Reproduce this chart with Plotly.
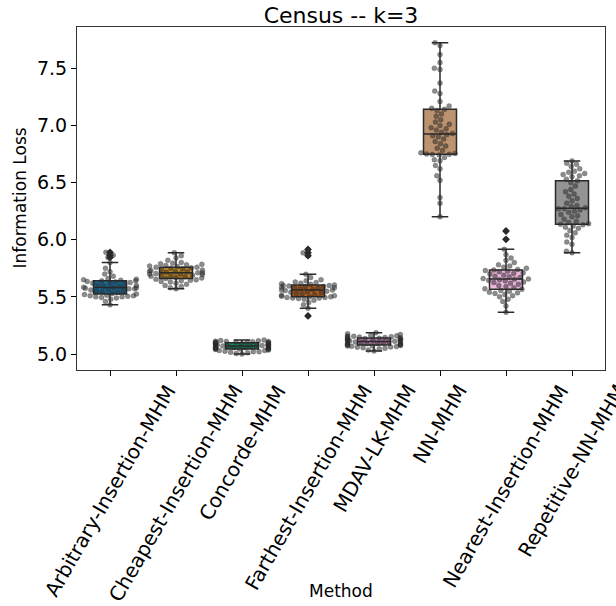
import numpy as np
import plotly.graph_objects as go

methods = ["Arbitrary-Insertion-MHM", "Cheapest-Insertion-MHM", "Concorde-MHM",
           "Farthest-Insertion-MHM", "MDAV-LK-MHM", "NN-MHM",
           "Nearest-Insertion-MHM", "Repetitive-NN-MHM"]

arbitrary = [5.43, 5.46, 5.48, 5.49, 5.495, 5.50, 5.50, 5.505, 5.51, 5.51,
             5.515, 5.52, 5.525, 5.53, 5.54, 5.545, 5.55, 5.555, 5.56, 5.565,
             5.57, 5.57, 5.575, 5.58, 5.58, 5.585, 5.59, 5.595, 5.60, 5.60,
             5.61, 5.615, 5.62, 5.625, 5.63, 5.635, 5.64, 5.64, 5.645, 5.65,
             5.655, 5.66, 5.68, 5.70, 5.72, 5.75, 5.80, 5.845, 5.865, 5.89]
cheapest = [5.57, 5.58, 5.59, 5.60, 5.61, 5.62, 5.63, 5.635, 5.64, 5.645,
            5.65, 5.655, 5.66, 5.665, 5.67, 5.675, 5.68, 5.685, 5.69, 5.69,
            5.695, 5.70, 5.70, 5.705, 5.71, 5.71, 5.715, 5.72, 5.72, 5.725,
            5.73, 5.735, 5.74, 5.745, 5.75, 5.755, 5.76, 5.76, 5.765, 5.77,
            5.775, 5.78, 5.785, 5.79, 5.795, 5.80, 5.82, 5.84, 5.86, 5.886]
concorde = [5.00, 5.005, 5.01, 5.015, 5.02, 5.02, 5.025, 5.03, 5.03, 5.035,
            5.04, 5.04, 5.044, 5.045, 5.05, 5.05, 5.052, 5.055, 5.055, 5.058,
            5.06, 5.06, 5.063, 5.065, 5.068, 5.07, 5.072, 5.075, 5.075, 5.078,
            5.08, 5.08, 5.083, 5.085, 5.088, 5.09, 5.095, 5.099, 5.10, 5.10,
            5.102, 5.105, 5.105, 5.108, 5.11, 5.11, 5.112, 5.115, 5.118, 5.122]
farthest = [5.333, 5.40, 5.43, 5.45, 5.47, 5.48, 5.485, 5.49, 5.49, 5.495,
            5.495, 5.50, 5.50, 5.505, 5.51, 5.515, 5.52, 5.525, 5.53, 5.535,
            5.54, 5.545, 5.55, 5.555, 5.56, 5.56, 5.565, 5.57, 5.575, 5.58,
            5.58, 5.585, 5.59, 5.59, 5.595, 5.60, 5.60, 5.604, 5.61, 5.615,
            5.62, 5.625, 5.63, 5.64, 5.65, 5.67, 5.697, 5.86, 5.885, 5.915]
mdav = [5.026, 5.035, 5.045, 5.05, 5.055, 5.06, 5.062, 5.065, 5.068, 5.07,
        5.072, 5.075, 5.079, 5.08, 5.083, 5.085, 5.088, 5.09, 5.092, 5.095,
        5.098, 5.10, 5.102, 5.105, 5.108, 5.11, 5.112, 5.115, 5.118, 5.12,
        5.122, 5.125, 5.128, 5.13, 5.132, 5.135, 5.138, 5.14, 5.142, 5.145,
        5.148, 5.15, 5.152, 5.155, 5.158, 5.16, 5.165, 5.17, 5.178, 5.186]
nn = [6.20, 6.32, 6.37, 6.52, 6.56, 6.62, 6.65, 6.69, 6.70, 6.72,
      6.74, 6.745, 6.747, 6.75, 6.755, 6.76, 6.78, 6.80, 6.82, 6.84,
      6.86, 6.88, 6.90, 6.91, 6.92, 6.93, 6.94, 6.96, 6.97, 6.98,
      7.00, 7.01, 7.03, 7.05, 7.08, 7.10, 7.13, 7.141, 7.15, 7.17,
      7.21, 7.28, 7.30, 7.37, 7.49, 7.50, 7.55, 7.62, 7.70, 7.724]
nearest = [5.365, 5.42, 5.46, 5.48, 5.50, 5.51, 5.52, 5.53, 5.535, 5.54,
           5.55, 5.555, 5.566, 5.57, 5.58, 5.59, 5.60, 5.61, 5.62, 5.625,
           5.63, 5.64, 5.645, 5.65, 5.655, 5.657, 5.66, 5.67, 5.675, 5.68,
           5.69, 5.70, 5.705, 5.71, 5.72, 5.725, 5.73, 5.735, 5.74, 5.75,
           5.76, 5.77, 5.78, 5.80, 5.82, 5.84, 5.87, 5.916, 6.003, 6.076]
repetitive = [5.886, 5.90, 5.96, 5.98, 6.02, 6.04, 6.06, 6.08, 6.10, 6.11,
              6.12, 6.13, 6.135, 6.14, 6.15, 6.16, 6.18, 6.20, 6.21, 6.22,
              6.24, 6.25, 6.26, 6.27, 6.27, 6.28, 6.29, 6.30, 6.32, 6.34,
              6.36, 6.38, 6.40, 6.42, 6.44, 6.47, 6.50, 6.515, 6.53, 6.55,
              6.56, 6.57, 6.58, 6.59, 6.60, 6.62, 6.64, 6.66, 6.67, 6.689]

series = [arbitrary, cheapest, concorde, farthest, mdav, nn, nearest, repetitive]
box_colors = ["#176d9c", "#c38820", "#168b6a", "#ba611b",
              "#c283b6", "#bd926e", "#f1b8e0", "#949494"]

W, H = 616, 606
ML, MR, MT, MB = 77, 11, 27, 236
YR = [4.86, 7.861]
XR = [-0.5, 7.5]
pw, ph = W - ML - MR, H - MT - MB
xs_px = pw / (XR[1] - XR[0])
ys_px = ph / (YR[1] - YR[0])
DOT = 5.5
LINE = "#2a2a2a"
FONT = "DejaVu Sans"


def swarm_offsets(vals, diameter, half_width_px):
    v = np.asarray(vals, float) * ys_px
    order = np.argsort(v, kind="stable")
    placed = []
    out = np.zeros(len(v))
    for idx in order:
        y = v[idx]
        neigh = [(px, py) for px, py in placed if abs(py - y) < diameter]
        cands = [0.0]
        left_first = True
        for px, py in neigh:
            dx = np.sqrt(max(diameter ** 2 - (py - y) ** 2, 0)) * 1.05
            pair = [px - dx, px + dx] if left_first else [px + dx, px - dx]
            cands.extend(pair)
            left_first = not left_first
        cands = sorted(cands, key=lambda c: abs(c))
        chosen = cands[-1]
        for c in cands:
            ok = all((c - px) ** 2 + (y - py) ** 2 >= (diameter * 0.999) ** 2 for px, py in neigh)
            if ok:
                chosen = c
                break
        placed.append((chosen, y))
        out[idx] = chosen
    out = np.clip(out, -half_width_px, half_width_px)
    return out / xs_px


fig = go.Figure()
for i, (vals, col) in enumerate(zip(series, box_colors)):
    fig.add_trace(go.Box(
        x=[i] * len(vals), y=vals, width=0.5, whiskerwidth=0.5,
        fillcolor=col, line=dict(color=LINE, width=1.5),
        boxpoints="outliers", jitter=0, pointpos=0,
        marker=dict(symbol="diamond", color=LINE, size=6),
        showlegend=False, hoverinfo="y"))

for i, vals in enumerate(series):
    off = swarm_offsets(vals, DOT, 0.4 * xs_px)
    fig.add_trace(go.Scatter(
        x=i + off, y=vals, mode="markers",
        marker=dict(size=DOT - 0.5, color="rgba(45,45,45,0.55)",
                    line=dict(width=0.5, color="rgba(30,30,30,0.4)")),
        showlegend=False, hoverinfo="y"))

annotations = []
for i, m in enumerate(methods):
    annotations.append(dict(
        x=i, xref="x", y=0, yref="paper", text=m, showarrow=False,
        textangle=-60, xanchor="center", yanchor="top", yshift=-8,
        font=dict(family=FONT, size=20, color="black")))
annotations.append(dict(
    x=0.5, xref="paper", y=0, yref="paper", text="Method", showarrow=False,
    xanchor="center", yanchor="middle", yshift=-221,
    font=dict(family=FONT, size=17, color="black")))
annotations.append(dict(
    x=0, xref="paper", y=0.5, yref="paper", text="Information Loss", showarrow=False,
    textangle=-90, xanchor="center", yanchor="middle", xshift=-58,
    font=dict(family=FONT, size=17, color="black")))

fig.update_layout(
    width=W, height=H,
    margin=dict(l=ML, r=MR, t=MT, b=MB, pad=0),
    paper_bgcolor="white", plot_bgcolor="white",
    title=dict(text="Census -- k=3", x=(ML + pw / 2) / W, xanchor="center",
               y=1 - 15 / H, yanchor="middle", yref="container",
               font=dict(family=FONT, size=22, color="black")),
    font=dict(family=FONT, color="black"),
    annotations=annotations,
    boxmode="overlay",
)
fig.update_xaxes(range=XR, tickvals=list(range(len(methods))), showticklabels=False,
                 ticks="outside", ticklen=5, tickcolor="black", tickwidth=1,
                 showgrid=False, zeroline=False, showline=True, linecolor="#333",
                 linewidth=1, mirror=True)
fig.update_yaxes(range=YR, tick0=5.0, dtick=0.5, tickformat=".1f",
                 ticks="outside", ticklen=5, tickcolor="black", tickwidth=1,
                 tickfont=dict(family=FONT, size=19, color="black"),
                 showgrid=False, zeroline=False, showline=True, linecolor="#333",
                 linewidth=1, mirror=True)

fig.write_html("out.html", config={"displayModeBar": False},
               post_script="document.body.style.margin='0';document.body.style.overflow='hidden';")
